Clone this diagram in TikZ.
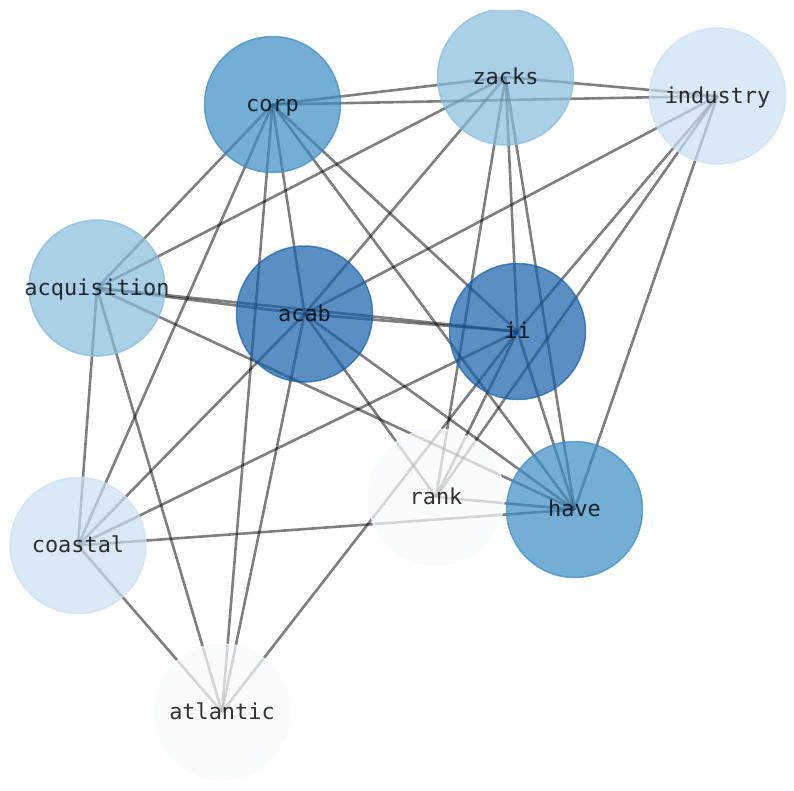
\documentclass[tikz,border=0pt]{standalone}
\usepackage{fontspec}
\setmonofont{DejaVu Sans Mono}
\usetikzlibrary{backgrounds}
\definecolor{blueA}{RGB}{247,251,255}
\definecolor{blueB}{RGB}{202,224,241}
\definecolor{blueC}{RGB}{133,188,220}
\definecolor{blueD}{RGB}{59,139,194}
\definecolor{blueE}{RGB}{22,96,169}
% label that does not widen its circle
\newcommand{\flatword}[1]{\makebox[0pt]{#1}}
\begin{document}
\begin{tikzpicture}[x=1pt,y=-1pt,
    word/.style={circle,minimum size=136pt,inner sep=0pt,line width=1.5pt,
      fill=#1,draw=#1,fill opacity=0.7,draw opacity=0.7,
      text=black,text opacity=0.8,
      font=\ttfamily\fontsize{21.9}{26}\selectfont,
      text height=16pt,text depth=2pt},
    link/.style={line width=2.6pt,draw=black,draw opacity=0.5}]
    \useasboundingbox (0,0) rectangle (794,790);
    % words
    \begin{scope}
    \clip (0,10) rectangle (794,780);
    \node [word=blueD] (corp) at (272.5,104.5) {corp};
    \node [word=blueC] (zacks) at (505.5,77) {zacks};
    \node [word=blueB] (industry) at (717.5,96) {industry};
    \node [word=blueC] (acquisition) at (97,288) {\flatword{acquisition}};
    \node [word=blueE] (acab) at (304.5,314) {acab};
    \node [word=blueE] (ii) at (517.5,331.5) {ii};
    \node [word=blueA] (rank) at (436,497) {rank};
    \node [word=blueD] (have) at (574.5,509.5) {have};
    \node [word=blueB] (coastal) at (78,545.5) {coastal};
    \node [word=blueA] (atlantic) at (222,712) {atlantic};
    \end{scope}
    % links, under the words
    \begin{scope}[on background layer]
    % corp
    \draw [link] (corp.center) -- (zacks.center);
    \draw [link] (corp.center) -- (industry.center);
    \draw [link] (corp.center) -- (acquisition.center);
    \draw [link] (corp.center) -- (acab.center);
    \draw [link] (corp.center) -- (ii.center);
    \draw [link] (corp.center) -- (have.center);
    \draw [link] (corp.center) -- (coastal.center);
    \draw [link] (corp.center) -- (atlantic.center);
    % zacks
    \draw [link] (zacks.center) -- (industry.center);
    \draw [link] (zacks.center) -- (acquisition.center);
    \draw [link] (zacks.center) -- (acab.center);
    \draw [link] (zacks.center) -- (ii.center);
    \draw [link] (zacks.center) -- (rank.center);
    \draw [link] (zacks.center) -- (have.center);
    % industry
    \draw [link] (industry.center) -- (acab.center);
    \draw [link] (industry.center) -- (ii.center);
    \draw [link] (industry.center) -- (rank.center);
    \draw [link] (industry.center) -- (have.center);
    % acquisition
    \draw [link] (acquisition.center) -- (acab.center);
    \draw [link] (acquisition.center) -- (ii.center);
    \draw [link] (acquisition.center) -- (have.center);
    \draw [link] (acquisition.center) -- (coastal.center);
    \draw [link] (acquisition.center) -- (atlantic.center);
    % acab
    \draw [link] (acab.center) -- (ii.center);
    \draw [link] (acab.center) -- (rank.center);
    \draw [link] (acab.center) -- (have.center);
    \draw [link] (acab.center) -- (coastal.center);
    \draw [link] (acab.center) -- (atlantic.center);
    % ii
    \draw [link] (ii.center) -- (rank.center);
    \draw [link] (ii.center) -- (have.center);
    \draw [link] (ii.center) -- (coastal.center);
    \draw [link] (ii.center) -- (atlantic.center);
    % rank, coastal
    \draw [link] (rank.center) -- (have.center);
    \draw [link] (coastal.center) -- (have.center);
    \draw [link] (coastal.center) -- (atlantic.center);
    \end{scope}
\end{tikzpicture}
\end{document}
